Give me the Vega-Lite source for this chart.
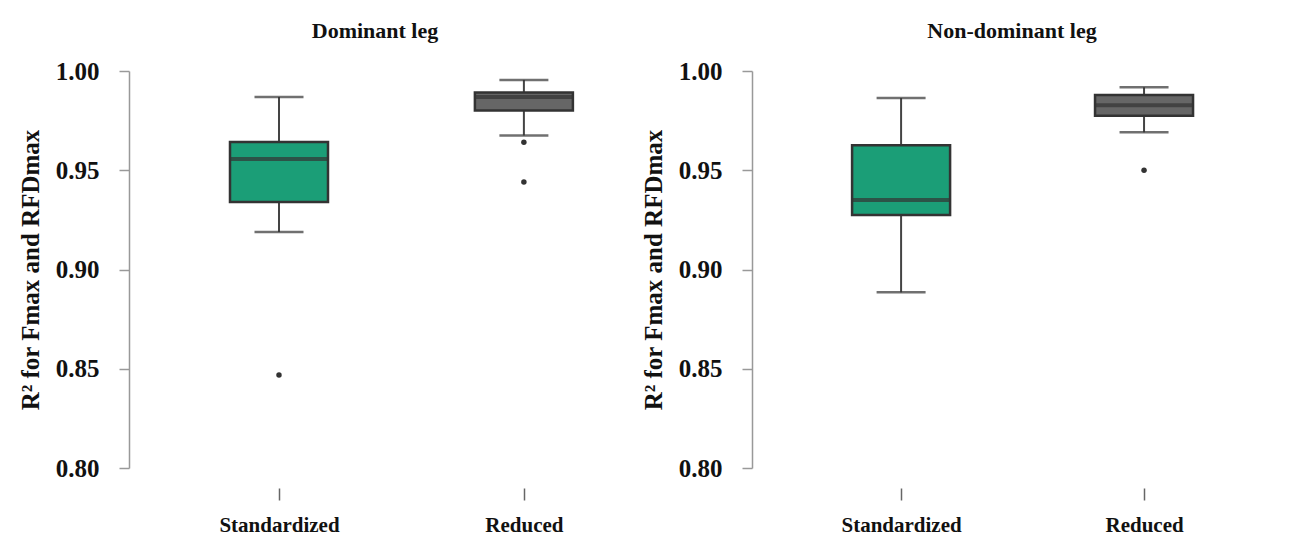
{
  "$schema": "https://vega.github.io/schema/vega-lite/v6.json",
  "background": "white",
  "padding": {"left": 18, "top": 20, "right": 5, "bottom": 5},
  "datasets": {
    "boxes": [
      {"leg": "Dominant leg", "method": "Standardized", "lower": 0.9189, "q1": 0.934, "median": 0.9557, "q3": 0.9642, "upper": 0.9869},
      {"leg": "Dominant leg", "method": "Reduced", "lower": 0.9675, "q1": 0.9801, "median": 0.9869, "q3": 0.9892, "upper": 0.9955},
      {"leg": "Non-dominant leg", "method": "Standardized", "lower": 0.8885, "q1": 0.9275, "median": 0.935, "q3": 0.9626, "upper": 0.9864},
      {"leg": "Non-dominant leg", "method": "Reduced", "lower": 0.9691, "q1": 0.9775, "median": 0.9827, "q3": 0.9879, "upper": 0.9918}
    ],
    "outliers": [
      {"leg": "Dominant leg", "method": "Standardized", "value": 0.8469},
      {"leg": "Dominant leg", "method": "Reduced", "value": 0.9641},
      {"leg": "Dominant leg", "method": "Reduced", "value": 0.9441},
      {"leg": "Non-dominant leg", "method": "Reduced", "value": 0.95}
    ]
  },
  "config": {
    "view": {"stroke": null},
    "font": "Liberation Serif",
    "title": {"font": "Liberation Serif", "fontSize": 22, "fontWeight": "bold", "color": "#111", "anchor": "middle", "frame": "group", "offset": 16},
    "axisY": {
      "labelFont": "Liberation Serif", "labelFontSize": 25, "labelFontWeight": "bold", "labelColor": "#111",
      "titleFont": "Liberation Serif", "titleFontSize": 25, "titleFontWeight": "bold", "titleColor": "#111",
      "domainColor": "#999", "domainWidth": 1.5, "tickColor": "#999", "tickWidth": 1.5, "tickSize": 10,
      "labelPadding": 20, "titlePadding": 12, "grid": false
    },
    "axisX": {
      "labelFont": "Liberation Serif", "labelFontSize": 21, "labelFontWeight": "bold", "labelColor": "#111",
      "domain": false, "tickColor": "#666", "tickWidth": 1.5, "tickSize": 12, "offset": 20,
      "labelPadding": 14, "labelAngle": 0, "title": null, "grid": false
    }
  },
  "spacing": 32,
  "hconcat": [
    {
      "width": 480,
      "height": 397,
      "title": {"text": "Dominant leg", "dx": 6},
      "layer": [
        {
          "data": {"name": "boxes"},
          "transform": [{"filter": "datum.leg === 'Dominant leg'"}],
          "mark": {"type": "rule", "color": "#444", "strokeWidth": 2},
          "encoding": {
            "x": {"field": "method", "type": "nominal", "sort": ["Standardized", "Reduced"], "scale": {"type": "point", "padding": 0.48, "align": 0.638}},
            "y": {"field": "lower", "type": "quantitative", "scale": {"domain": [0.8, 1.0], "nice": false, "zero": false}, "title": "R² for Fmax and RFDmax", "axis": {"values": [0.8, 0.85, 0.9, 0.95, 1.0], "format": ".2f"}},
            "y2": {"field": "upper"}
          }
        },
        {
          "data": {"name": "boxes"},
          "transform": [{"filter": "datum.leg === 'Dominant leg'"}],
          "mark": {"type": "tick", "color": "#333", "size": 49, "thickness": 2.5},
          "encoding": {
            "x": {"field": "method", "type": "nominal", "sort": ["Standardized", "Reduced"]},
            "y": {"field": "lower", "type": "quantitative"}
          }
        },
        {
          "data": {"name": "boxes"},
          "transform": [{"filter": "datum.leg === 'Dominant leg'"}],
          "mark": {"type": "tick", "color": "#333", "size": 49, "thickness": 2.5},
          "encoding": {
            "x": {"field": "method", "type": "nominal", "sort": ["Standardized", "Reduced"]},
            "y": {"field": "upper", "type": "quantitative"}
          }
        },
        {
          "data": {"name": "boxes"},
          "transform": [{"filter": "datum.leg === 'Dominant leg'"}],
          "mark": {"type": "bar", "size": 98, "stroke": "#333", "strokeWidth": 2.5},
          "encoding": {
            "x": {"field": "method", "type": "nominal", "sort": ["Standardized", "Reduced"]},
            "y": {"field": "q1", "type": "quantitative"},
            "y2": {"field": "q3"},
            "fill": {"field": "method", "type": "nominal", "scale": {"domain": ["Standardized", "Reduced"], "range": ["#1b9e77", "#666666"]}, "legend": null}
          }
        },
        {
          "data": {"name": "boxes"},
          "transform": [{"filter": "datum.leg === 'Dominant leg'"}],
          "mark": {"type": "tick", "color": "#333", "size": 98, "thickness": 4},
          "encoding": {
            "x": {"field": "method", "type": "nominal", "sort": ["Standardized", "Reduced"]},
            "y": {"field": "median", "type": "quantitative"}
          }
        },
        {
          "data": {"name": "outliers"},
          "transform": [{"filter": "datum.leg === 'Dominant leg'"}],
          "mark": {"type": "circle", "color": "#333", "size": 30, "opacity": 1},
          "encoding": {
            "x": {"field": "method", "type": "nominal", "sort": ["Standardized", "Reduced"]},
            "y": {"field": "value", "type": "quantitative"}
          }
        }
      ]
    },
    {
      "width": 500,
      "height": 397,
      "title": {"text": "Non-dominant leg", "dx": 10},
      "layer": [
        {
          "data": {"name": "boxes"},
          "transform": [{"filter": "datum.leg === 'Non-dominant leg'"}],
          "mark": {"type": "rule", "color": "#444", "strokeWidth": 2},
          "encoding": {
            "x": {"field": "method", "type": "nominal", "sort": ["Standardized", "Reduced"], "scale": {"type": "point", "padding": 0.529, "align": 0.58}},
            "y": {"field": "lower", "type": "quantitative", "scale": {"domain": [0.8, 1.0], "nice": false, "zero": false}, "title": "R² for Fmax and RFDmax", "axis": {"values": [0.8, 0.85, 0.9, 0.95, 1.0], "format": ".2f"}},
            "y2": {"field": "upper"}
          }
        },
        {
          "data": {"name": "boxes"},
          "transform": [{"filter": "datum.leg === 'Non-dominant leg'"}],
          "mark": {"type": "tick", "color": "#333", "size": 49, "thickness": 2.5},
          "encoding": {
            "x": {"field": "method", "type": "nominal", "sort": ["Standardized", "Reduced"]},
            "y": {"field": "lower", "type": "quantitative"}
          }
        },
        {
          "data": {"name": "boxes"},
          "transform": [{"filter": "datum.leg === 'Non-dominant leg'"}],
          "mark": {"type": "tick", "color": "#333", "size": 49, "thickness": 2.5},
          "encoding": {
            "x": {"field": "method", "type": "nominal", "sort": ["Standardized", "Reduced"]},
            "y": {"field": "upper", "type": "quantitative"}
          }
        },
        {
          "data": {"name": "boxes"},
          "transform": [{"filter": "datum.leg === 'Non-dominant leg'"}],
          "mark": {"type": "bar", "size": 98, "stroke": "#333", "strokeWidth": 2.5},
          "encoding": {
            "x": {"field": "method", "type": "nominal", "sort": ["Standardized", "Reduced"]},
            "y": {"field": "q1", "type": "quantitative"},
            "y2": {"field": "q3"},
            "fill": {"field": "method", "type": "nominal", "scale": {"domain": ["Standardized", "Reduced"], "range": ["#1b9e77", "#666666"]}, "legend": null}
          }
        },
        {
          "data": {"name": "boxes"},
          "transform": [{"filter": "datum.leg === 'Non-dominant leg'"}],
          "mark": {"type": "tick", "color": "#333", "size": 98, "thickness": 4},
          "encoding": {
            "x": {"field": "method", "type": "nominal", "sort": ["Standardized", "Reduced"]},
            "y": {"field": "median", "type": "quantitative"}
          }
        },
        {
          "data": {"name": "outliers"},
          "transform": [{"filter": "datum.leg === 'Non-dominant leg'"}],
          "mark": {"type": "circle", "color": "#333", "size": 30, "opacity": 1},
          "encoding": {
            "x": {"field": "method", "type": "nominal", "sort": ["Standardized", "Reduced"]},
            "y": {"field": "value", "type": "quantitative"}
          }
        }
      ]
    }
  ]
}
